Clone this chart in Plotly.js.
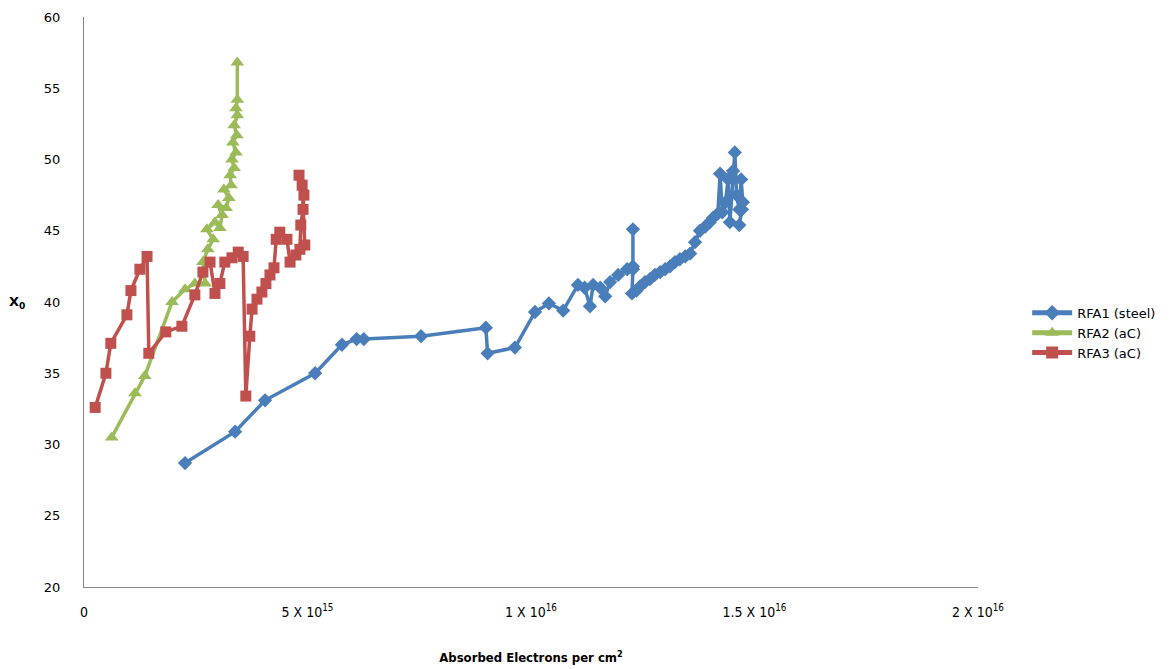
<!DOCTYPE html>
<html>
<head>
<meta charset="utf-8">
<script src="https://cdn.plot.ly/plotly-3.0.1.min.js"></script>
<style>html,body{margin:0;padding:0;background:#fff;}#chart{width:1175px;height:669px;}</style>
</head>
<body>
<div id="chart"></div>
<script>
// x values in units of 10^15 absorbed electrons per cm^2
const rfa1X = [2.26,3.38,4.05,5.17,5.77,6.10,6.26,7.54,8.99,9.03,9.64,10.09,10.40,10.72,11.05,11.20,11.32,11.39,11.55,11.66,11.77,11.95,12.15,12.28,12.28,12.28,12.26,12.36,12.44,12.55,12.66,12.77,12.89,13.00,13.11,13.22,13.33,13.45,13.56,13.67,13.78,13.90,14.00,14.07,14.18,14.23,14.28,14.35,14.41,14.45,14.52,14.56,14.60,14.66,14.70,14.74,14.66,14.72];
const rfa1Y = [28.7,30.9,33.1,35.0,37.0,37.4,37.4,37.6,38.2,36.4,36.8,39.3,39.9,39.4,41.2,41.0,39.7,41.2,41.0,40.4,41.4,41.9,42.3,42.5,45.1,42.3,40.6,40.8,41.1,41.4,41.6,41.9,42.1,42.3,42.5,42.8,43.0,43.2,43.4,44.2,45.0,45.3,45.6,45.9,46.2,49.0,46.3,47.0,48.6,45.6,49.2,50.5,47.5,46.5,48.6,47.0,45.4,46.5];

const rfa2X = [0.62,1.14,1.36,1.97,2.26,2.48,2.71,2.66,2.77,2.89,2.75,2.93,3.04,3.09,3.00,3.18,3.24,3.13,3.29,3.27,3.36,3.31,3.40,3.33,3.42,3.36,3.43,3.40,3.43,3.43];
const rfa2Y = [30.5,33.6,34.8,40.0,40.9,41.3,41.3,42.8,43.7,44.4,45.1,45.6,45.2,46.1,46.8,46.6,47.3,47.9,48.2,48.9,49.4,50.0,50.5,51.2,51.7,52.4,53.1,53.6,54.2,56.8];

const rfa3X = [0.25,0.49,0.60,0.96,1.05,1.25,1.41,1.45,1.83,2.19,2.48,2.66,2.82,2.93,3.04,3.15,3.31,3.45,3.56,3.62,3.71,3.76,3.87,3.98,4.07,4.16,4.25,4.30,4.38,4.54,4.61,4.74,4.83,4.85,4.90,4.92,4.81,4.88,4.94];
const rfa3Y = [32.6,35.0,37.1,39.1,40.8,42.3,43.2,36.4,37.9,38.3,40.5,42.1,42.8,40.6,41.3,42.8,43.1,43.5,43.2,33.4,37.6,39.5,40.2,40.7,41.3,41.9,42.4,44.4,44.9,44.4,42.8,43.3,43.7,45.4,46.5,47.5,48.9,48.2,44.0];

const seriesNames = ['RFA1 (steel)','RFA2 (aC)','RFA3 (aC)'];
const xTickVals = [0,5,10,15,20];
const xTickText = ['0','5 X 10<sup>15</sup>','1 X 10<sup>16</sup>','1.5 X 10<sup>16</sup>','2 X 10<sup>16</sup>'];
const yTickVals = [20,25,30,35,40,45,50,55,60];

const narrow = 'DejaVu Sans Condensed, Liberation Sans Narrow, Arial Narrow, sans-serif';

const traces = [
  {x: rfa1X, y: rfa1Y, name: seriesNames[0], type: 'scatter', mode: 'lines+markers',
   line: {color: '#4A7EBB', width: 3.5}, marker: {symbol: 'diamond', size: 11, color: '#4A7EBB'}},
  {x: rfa2X, y: rfa2Y, name: seriesNames[1], type: 'scatter', mode: 'lines+markers',
   line: {color: '#9BBB59', width: 3.5}, marker: {symbol: 'triangle-up', size: 12, color: '#9BBB59'}},
  {x: rfa3X, y: rfa3Y, name: seriesNames[2], type: 'scatter', mode: 'lines+markers',
   line: {color: '#C0504D', width: 3.5}, marker: {symbol: 'square', size: 11, color: '#C0504D'}}
];

const layout = {
  width: 1175, height: 669,
  margin: {l: 84, r: 197, t: 17, b: 82},
  paper_bgcolor: '#fff', plot_bgcolor: '#fff',
  showlegend: true,
  legend: {x: 1.055, xanchor: 'left', y: 0.446, yanchor: 'middle',
           font: {family: 'DejaVu Sans, Verdana, sans-serif', size: 13, color: '#000'},
           itemwidth: 40, tracegroupgap: 4, itemsizing: 'constant'},
  xaxis: {range: [0, 20], tickvals: xTickVals, ticktext: xTickText,
          showgrid: false, zeroline: false, showline: true, linecolor: '#868686', linewidth: 1,
          ticks: '', ticklabelstandoff: 12,
          tickfont: {family: narrow, size: 14, color: '#000'},
          title: {text: '<b>Absorbed Electrons per cm<sup>2</sup></b>', standoff: 34,
                  font: {family: narrow, size: 13, color: '#000'}}},
  yaxis: {range: [20, 60], tickvals: yTickVals,
          showgrid: false, zeroline: false, showline: true, linecolor: '#868686', linewidth: 1,
          ticks: '', ticklabelstandoff: 20,
          tickfont: {family: 'DejaVu Sans, Verdana, sans-serif', size: 13, color: '#000'}},
  annotations: [{text: '<b>X<sub>0</sub></b>', xref: 'paper', yref: 'y', x: -0.075, y: 40,
                 xanchor: 'center', yanchor: 'middle', showarrow: false,
                 font: {family: 'DejaVu Sans, Verdana, sans-serif', size: 13, color: '#000'}}]
};

Plotly.newPlot('chart', traces, layout, {displayModeBar: false, staticPlot: true});
</script>
</body>
</html>
